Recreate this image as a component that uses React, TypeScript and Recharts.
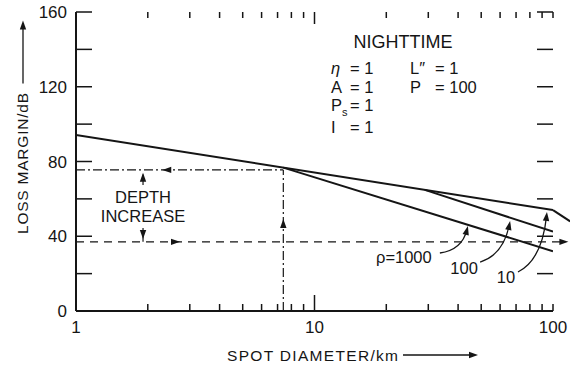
import { LineChart, Line, XAxis, YAxis, ReferenceLine, ReferenceDot } from "recharts"

const INK = "#151515"
const FONT = "'Liberation Sans', Arial, Helvetica, sans-serif"

// axis ticks
const spotTicks = [1, 2, 3, 4, 5, 6, 7, 8, 9, 10, 20, 30, 40, 50, 60, 70, 80, 90, 100]
const spotLabels = [1, 10, 100]
const marginTicks = [0, 20, 40, 60, 80, 100, 120, 140, 160]
const marginLabels = [0, 40, 80, 120, 160]

// loss margin (dB) vs spot diameter (km)
const rho10 = [
  { d: 1, m: 94.2 },
  { d: 100, m: 54 },
]
const rho10Tail = [
  { d: 100, m: 54 },
  { d: 118, m: 48 },
]
const rho100 = [
  { d: 29, m: 64.8 },
  { d: 100, m: 42.5 },
]
const rho1000 = [
  { d: 7.4, m: 76.7 },
  { d: 100, m: 32 },
]

// depth increase construction
const breakSpot = 7.4
const shallowLevel = 75.5
const deepLevel = 37
const dashEnd = 112
const depthSpot = 1.91

// curve tags
const curveTags = [
  { tag: "\u03c1=1000", d: 23.7, m: 28.9 },
  { tag: "100", d: 42.4, m: 23 },
  { tag: "10", d: 63.5, m: 18.2 },
]
const tagArrows = [
  { from: [36, -4], ctrl: [58, -7], to: [64, -31] },
  { from: [16, -6], ctrl: [39, -13], to: [46, -47] },
  { from: [12, -5], ctrl: [36, -17], to: [41, -65] },
]

// conditions
const leftParams = [
  { sym: "\u03b7", val: "= 1" },
  { sym: "A", val: "= 1" },
  { sym: "Ps", val: "= 1" },
  { sym: "I", val: "= 1" },
]
const rightParams = [
  { sym: "L\u2033", val: "= 1" },
  { sym: "P", val: "= 100" },
]
const rowOffsets = [26, 45, 63, 85]

const W = 570
const H = 366
const M = { top: 12, right: 17, bottom: 0, left: 0 }
const X_AXIS_H = 55

function Head({ x, y, angle }: { x: number; y: number; angle: number }) {
  return <path d="M0,0 L-9,-3.2 L-9,3.2 Z" transform={`translate(${x},${y}) rotate(${angle})`} fill={INK} />
}

function LeftLabel({ x, y, payload }: any) {
  return (
    <text x={x} y={y} dy="0.36em" textAnchor="end" fontSize={17} fontFamily={FONT} fill={INK}>
      {payload.value}
    </text>
  )
}

function BottomLabel({ x, y, payload }: any) {
  return (
    <text x={x} y={y + 16} dy="0.36em" textAnchor="middle" fontSize={17} fontFamily={FONT} fill={INK}>
      {payload.value}
    </text>
  )
}

// inward tick mark, length in px
function Mark({ cx, cy, dx, dy }: any) {
  return <line x1={cx} y1={cy} x2={cx + dx} y2={cy + dy} stroke={INK} strokeWidth={1.5} />
}

// axis titles, anchored at the plot origin (1, 0)
function Titles({ cx, cy }: any) {
  const yx = cx - 53
  const yc = cy - 147.5
  const xx = cx + 151
  const xc = cy + 44
  return (
    <g fontFamily={FONT} fill={INK}>
      <text
        x={yx}
        y={yc}
        transform={`rotate(-90 ${yx} ${yc})`}
        textAnchor="middle"
        dominantBaseline="central"
        fontSize={15.5}
        textLength={141}
        lengthAdjust="spacing"
      >
        LOSS MARGIN/dB
      </text>
      <line x1={yx} x2={yx} y1={yc - 80} y2={yc - 136} stroke={INK} strokeWidth={1.3} />
      <Head x={yx} y={yc - 143} angle={-90} />
      <text x={xx} y={xc} dy="0.36em" fontSize={15.5} textLength={171} lengthAdjust="spacing">
        SPOT DIAMETER/km
      </text>
      <line x1={xx + 176} x2={xx + 244} y1={xc} y2={xc} stroke={INK} strokeWidth={1.3} />
      <Head x={xx + 251} y={xc} angle={0} />
    </g>
  )
}

function Conditions({ cx, cy }: any) {
  return (
    <g fontFamily={FONT} fill={INK}>
      <text x={cx} y={cy} dy="0.36em" textAnchor="middle" fontSize={18}>
        NIGHTTIME
      </text>
      {leftParams.map((p, i) => (
        <g key={p.sym} fontSize={16.5}>
          <text x={cx - 72} y={cy + rowOffsets[i]} dy="0.36em" fontStyle={p.sym === "\u03b7" ? "italic" : "normal"}>
            {p.sym === "Ps" ? (
              <>
                <tspan>P</tspan>
                <tspan dy={5} fontSize={11}>
                  s
                </tspan>
              </>
            ) : (
              p.sym
            )}
          </text>
          <text x={cx - 53} y={cy + rowOffsets[i]} dy="0.36em">
            {p.val}
          </text>
        </g>
      ))}
      {rightParams.map((p, i) => (
        <g key={p.sym} fontSize={16.5}>
          <text x={cx + 7} y={cy + rowOffsets[i]} dy="0.36em">
            {p.sym}
          </text>
          <text x={cx + 32} y={cy + rowOffsets[i]} dy="0.36em">
            {p.val}
          </text>
        </g>
      ))}
    </g>
  )
}

function DepthText({ cx, cy }: any) {
  return (
    <g fontFamily={FONT} fill={INK} fontSize={16.5}>
      <text x={cx} y={cy - 9.5} dy="0.36em" textAnchor="middle">
        DEPTH
      </text>
      <text x={cx} y={cy + 9.5} dy="0.36em" textAnchor="middle">
        INCREASE
      </text>
    </g>
  )
}

function CurveTag({ cx, cy, idx }: any) {
  const t = curveTags[idx]
  const a = tagArrows[idx]
  const [fx, fy] = a.from
  const [qx, qy] = a.ctrl
  const [tx, ty] = a.to
  const rad = Math.atan2(ty - qy, tx - qx)
  const ang = (rad * 180) / Math.PI
  return (
    <g>
      <text x={cx} y={cy} dy="0.36em" textAnchor="middle" fontSize={16.5} fontFamily={FONT} fill={INK}>
        {t.tag}
      </text>
      <path
        d={`M${cx + fx},${cy + fy} Q${cx + qx},${cy + qy} ${cx + tx - 4 * Math.cos(rad)},${cy + ty - 4 * Math.sin(rad)}`}
        fill="none"
        stroke={INK}
        strokeWidth={1.3}
      />
      <Head x={cx + tx} y={cy + ty} angle={ang} />
    </g>
  )
}

const ids = { xAxisId: "b", yAxisId: "l" }
const dashDot = "9 3 2 3"

export default function App() {
  return (
    <div style={{ position: "absolute", left: 0, top: 0, background: "#fff" }}>
      <LineChart width={W} height={H} margin={M}>
        <XAxis
          xAxisId="b"
          dataKey="d"
          type="number"
          scale="log"
          domain={[1, 100]}
          allowDataOverflow
          ticks={spotLabels}
          interval={0}
          height={X_AXIS_H}
          tickSize={0}
          tickMargin={0}
          tickLine={false}
          tick={<BottomLabel />}
          axisLine={{ stroke: INK, strokeWidth: 2 }}
        />
        <XAxis
          xAxisId="t"
          orientation="top"
          type="number"
          scale="log"
          domain={[1, 100]}
          allowDataOverflow
          height={0}
          tick={false}
          tickLine={false}
          axisLine={{ stroke: INK, strokeWidth: 2 }}
        />
        <YAxis
          yAxisId="l"
          type="number"
          domain={[0, 160]}
          allowDataOverflow
          ticks={marginLabels}
          interval={0}
          width={76}
          tickLine={false}
          tickSize={6}
          tickMargin={3}
          tick={<LeftLabel />}
          axisLine={{ stroke: INK, strokeWidth: 2 }}
        />
        <YAxis
          yAxisId="r"
          orientation="right"
          type="number"
          domain={[0, 160]}
          allowDataOverflow
          width={0}
          tick={false}
          tickLine={false}
          axisLine={{ stroke: INK, strokeWidth: 2 }}
        />

        {/* curves */}
        <Line {...ids} data={rho10} dataKey="m" stroke={INK} strokeWidth={2} dot={false} isAnimationActive={false} />
        <Line {...ids} data={rho100} dataKey="m" stroke={INK} strokeWidth={2} dot={false} isAnimationActive={false} />
        <Line {...ids} data={rho1000} dataKey="m" stroke={INK} strokeWidth={2} dot={false} isAnimationActive={false} />
        <ReferenceLine
          {...ids}
          segment={[
            { x: rho10Tail[0].d, y: rho10Tail[0].m },
            { x: rho10Tail[1].d, y: rho10Tail[1].m },
          ]}
          stroke={INK}
          strokeWidth={2}
          ifOverflow="visible"
        />

        {/* depth increase construction */}
        <ReferenceLine
          {...ids}
          segment={[
            { x: 1, y: shallowLevel },
            { x: breakSpot, y: shallowLevel },
          ]}
          stroke={INK}
          strokeWidth={1.2}
          strokeDasharray={dashDot}
          ifOverflow="visible"
        />
        <ReferenceLine
          {...ids}
          segment={[
            { x: breakSpot, y: 0 },
            { x: breakSpot, y: shallowLevel },
          ]}
          stroke={INK}
          strokeWidth={1.2}
          strokeDasharray={dashDot}
          ifOverflow="visible"
        />
        <ReferenceLine
          {...ids}
          segment={[
            { x: 1, y: deepLevel },
            { x: dashEnd, y: deepLevel },
          ]}
          stroke={INK}
          strokeWidth={1.2}
          strokeDasharray="8 6"
          ifOverflow="visible"
        />
        <ReferenceLine
          {...ids}
          segment={[
            { x: depthSpot, y: 67.4 },
            { x: depthSpot, y: 73 },
          ]}
          stroke={INK}
          strokeWidth={1.2}
          ifOverflow="visible"
        />
        <ReferenceLine
          {...ids}
          segment={[
            { x: depthSpot, y: 44.4 },
            { x: depthSpot, y: deepLevel },
          ]}
          stroke={INK}
          strokeWidth={1.2}
          ifOverflow="visible"
        />
        <ReferenceDot {...ids} x={2.3} y={shallowLevel} r={0} ifOverflow="visible" shape={(p: any) => <Head x={p.cx} y={p.cy} angle={180} />} />
        <ReferenceDot {...ids} x={2.73} y={deepLevel} r={0} ifOverflow="visible" shape={(p: any) => <Head x={p.cx} y={p.cy} angle={0} />} />
        <ReferenceDot {...ids} x={116} y={deepLevel} r={0} ifOverflow="visible" shape={(p: any) => <Head x={p.cx} y={p.cy} angle={0} />} />
        <ReferenceDot {...ids} x={breakSpot} y={49.2} r={0} ifOverflow="visible" shape={(p: any) => <Head x={p.cx} y={p.cy} angle={-90} />} />
        <ReferenceDot {...ids} x={depthSpot} y={74} r={0} ifOverflow="visible" shape={(p: any) => <Head x={p.cx} y={p.cy} angle={-90} />} />
        <ReferenceDot {...ids} x={depthSpot} y={38.5} r={0} ifOverflow="visible" shape={(p: any) => <Head x={p.cx} y={p.cy} angle={90} />} />
        <ReferenceDot {...ids} x={depthSpot} y={55.9} r={0} ifOverflow="visible" shape={(p: any) => <DepthText cx={p.cx} cy={p.cy} />} />

        {curveTags.map((t, i) => (
          <ReferenceDot
            key={t.tag}
            {...ids}
            x={t.d}
            y={t.m}
            r={0}
            ifOverflow="visible"
            shape={(p: any) => <CurveTag cx={p.cx} cy={p.cy} idx={i} />}
          />
        ))}

        <ReferenceDot {...ids} x={23.5} y={144} r={0} ifOverflow="visible" shape={(p: any) => <Conditions cx={p.cx} cy={p.cy} />} />
        <ReferenceDot {...ids} x={1} y={0.001} r={0} ifOverflow="visible" shape={(p: any) => <Titles cx={p.cx} cy={p.cy} />} />

        {/* inward tick marks on the frame, drawn last */}
        {spotTicks.map((v) => (
          <ReferenceDot
            key={"t" + v}
            {...ids}
            x={v}
            y={160}
            r={0}
            ifOverflow="visible"
            shape={(p: any) => <Mark cx={p.cx} cy={p.cy} dx={0} dy={v === 10 ? 12 : 6} />}
          />
        ))}
        {marginTicks.map((v) => (
          <ReferenceDot
            key={"l" + v}
            {...ids}
            x={1}
            y={v}
            r={0}
            ifOverflow="visible"
            shape={(p: any) => <Mark cx={p.cx} cy={p.cy} dx={16} dy={0} />}
          />
        ))}
        {marginTicks.map((v) => (
          <ReferenceDot
            key={"r" + v}
            {...ids}
            x={100}
            y={v}
            r={0}
            ifOverflow="visible"
            shape={(p: any) => <Mark cx={p.cx} cy={p.cy} dx={-16} dy={0} />}
          />
        ))}
        {spotTicks.map((v) => (
          <ReferenceDot
            key={"b" + v}
            {...ids}
            x={v}
            y={0}
            r={0}
            ifOverflow="visible"
            shape={(p: any) => <Mark cx={p.cx} cy={p.cy} dx={0} dy={v === 10 ? -16 : -7} />}
          />
        ))}
      </LineChart>
    </div>
  )
}
